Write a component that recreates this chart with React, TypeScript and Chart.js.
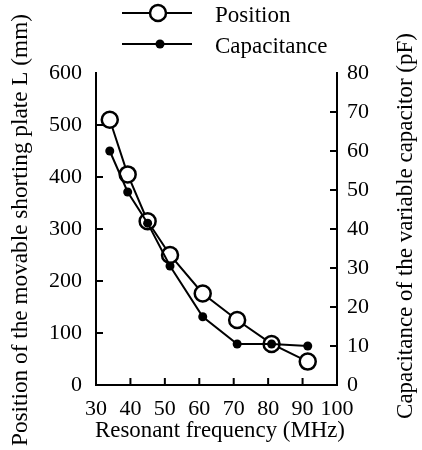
import React, { useEffect, useRef } from "react";
import { Chart, registerables } from "chart.js";

Chart.register(...registerables);

const frequency = [34, 39.2, 45, 51.5, 61, 71, 81, 91.5];
const positionMM = [510, 405, 315, 250, 176, 125, 79, 45];
const capacitancePF = [60, 49.5, 41.5, 30.5, 17.5, 10.5, 10.5, 10];

const xTitle = "Resonant frequency (MHz)";
const yLeftTitle = "Position of the movable shorting plate L (mm)";
const yRightTitle = "Capacitance of the variable capacitor (pF)";
const legendLabels = ["Position", "Capacitance"];

const FONT = "Liberation Serif";
Chart.defaults.font.family = FONT;

function fitText(ctx: CanvasRenderingContext2D, text: string, width: number) {
  ctx.font = `20px "${FONT}"`;
  const w = ctx.measureText(text).width;
  const size = (20 * width) / w;
  ctx.font = `${size.toFixed(2)}px "${FONT}"`;
}

const decorPlugin = {
  id: "decor",
  afterDraw(chart: any) {
    const ctx = chart.ctx as CanvasRenderingContext2D;
    const { x, y, y1 } = chart.scales;
    const area = chart.chartArea;
    ctx.save();
    ctx.strokeStyle = "#000";
    ctx.lineWidth = 2;
    const tl = 7;
    ctx.beginPath();
    for (let v = 40; v <= 90; v += 10) {
      const px = x.getPixelForValue(v);
      ctx.moveTo(px, area.bottom);
      ctx.lineTo(px, area.bottom - tl);
    }
    for (let v = 100; v <= 500; v += 100) {
      const py = y.getPixelForValue(v);
      ctx.moveTo(area.left, py);
      ctx.lineTo(area.left + tl, py);
    }
    for (let v = 10; v <= 70; v += 10) {
      const py = y1.getPixelForValue(v);
      ctx.moveTo(area.right, py);
      ctx.lineTo(area.right - tl, py);
    }
    ctx.stroke();

    ctx.fillStyle = "#000";
    ctx.textAlign = "center";
    ctx.textBaseline = "middle";
    fitText(ctx, xTitle, 250);
    ctx.fillText(xTitle, 220, 431);

    ctx.save();
    ctx.translate(21, 230);
    ctx.rotate(-Math.PI / 2);
    fitText(ctx, yLeftTitle, 432);
    ctx.fillText(yLeftTitle, 0, 0);
    ctx.restore();

    ctx.save();
    ctx.translate(406, 226);
    ctx.rotate(-Math.PI / 2);
    fitText(ctx, yRightTitle, 386);
    ctx.fillText(yRightTitle, 0, 0);
    ctx.restore();

    const rows = [13, 44];
    ctx.lineWidth = 2;
    rows.forEach((ry, i) => {
      ctx.beginPath();
      ctx.moveTo(122, ry);
      ctx.lineTo(192, ry);
      ctx.stroke();
      ctx.beginPath();
      if (i === 0) {
        ctx.arc(158, ry, 8, 0, Math.PI * 2);
        ctx.fillStyle = "#fff";
        ctx.fill();
        ctx.lineWidth = 2.5;
        ctx.stroke();
        ctx.lineWidth = 2;
      } else {
        ctx.arc(160, ry, 4.5, 0, Math.PI * 2);
        ctx.fillStyle = "#000";
        ctx.fill();
      }
      ctx.fillStyle = "#000";
      ctx.textAlign = "left";
      ctx.font = `23px "${FONT}"`;
      ctx.fillText(legendLabels[i], 215, ry + 3);
    });
    ctx.restore();
  },
};

export default function App() {
  const ref = useRef<HTMLCanvasElement>(null);
  useEffect(() => {
    if (!ref.current) return;
    const tickFont = { family: FONT, size: 22 };
    const chart = new Chart(ref.current, {
      type: "line",
      data: {
        datasets: [
          {
            label: legendLabels[0],
            data: frequency.map((f, i) => ({ x: f, y: positionMM[i] })),
            yAxisID: "y",
            borderColor: "#000",
            borderWidth: 2,
            pointRadius: 8,
            pointBorderWidth: 2.5,
            pointBackgroundColor: "#fff",
            pointBorderColor: "#000",
            order: 1,
          },
          {
            label: legendLabels[1],
            data: frequency.map((f, i) => ({ x: f, y: capacitancePF[i] })),
            yAxisID: "y1",
            borderColor: "#000",
            borderWidth: 2,
            pointRadius: 4.5,
            pointBorderWidth: 0,
            pointBackgroundColor: "#000",
            pointBorderColor: "#000",
            order: 0,
          },
        ],
      },
      options: {
        responsive: false,
        animation: false,
        layout: { padding: { top: 73, left: 0, right: 0, bottom: 0 } },
        plugins: { legend: { display: false }, tooltip: { enabled: false } },
        scales: {
          x: {
            type: "linear",
            min: 30,
            max: 100,
            ticks: { stepSize: 10, font: tickFont, color: "#000", padding: 11, maxRotation: 0, autoSkip: false },
            grid: { drawOnChartArea: false, drawTicks: false },
            border: { display: true, color: "#000", width: 2 },
            afterFit: (s: any) => { s.height = 65; },
          },
          y: {
            position: "left",
            min: 0,
            max: 600,
            ticks: { stepSize: 100, font: tickFont, color: "#000", padding: 14, autoSkip: false },
            grid: { drawOnChartArea: false, drawTicks: false },
            border: { display: true, color: "#000", width: 2 },
            afterFit: (s: any) => { s.width = 96; },
          },
          y1: {
            position: "right",
            min: 0,
            max: 80,
            ticks: { stepSize: 10, font: tickFont, color: "#000", padding: 10, autoSkip: false },
            grid: { drawOnChartArea: false, drawTicks: false },
            border: { display: true, color: "#000", width: 2 },
            afterFit: (s: any) => { s.width = 85; },
          },
        },
      },
      plugins: [decorPlugin],
    } as any);
    return () => chart.destroy();
  }, []);
  return (
    <div style={{ position: "fixed", left: 0, top: 0, width: 422, height: 450, background: "#fff" }}>
      <canvas ref={ref} width={422} height={450} />
    </div>
  );
}
